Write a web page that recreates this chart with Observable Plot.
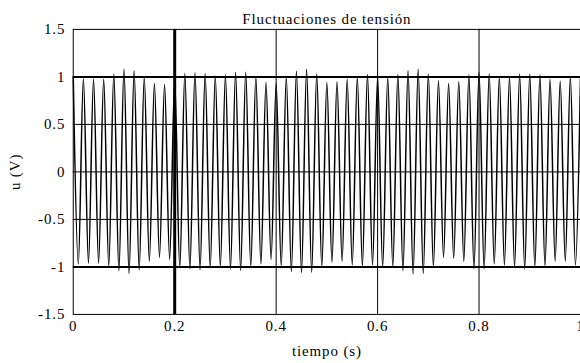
<!DOCTYPE html>
<html>
<head>
<meta charset="utf-8">
<script src="https://cdn.jsdelivr.net/npm/d3@7"></script>
<script src="https://cdn.jsdelivr.net/npm/@observablehq/plot@0.6"></script>
<style>
  html, body { margin: 0; padding: 0; background: #fff; overflow: hidden; }
  svg text { letter-spacing: 0.9px; }
</style>
</head>
<body>
<div id="chart"></div>
<script>
// Texts
const title = "Fluctuaciones de tensión";
const xLabel = "tiempo (s)";
const yLabel = "u (V)";

// Tick values and labels
const xTicks = [0, 0.2, 0.4, 0.6, 0.8, 1];
const xTickLabels = ["0", "0.2", "0.4", "0.6", "0.8", "1"];
const yTicks = [1.5, 1, 0.5, 0, -0.5, -1, -1.5];
const yTickLabels = ["1.5", "1", "0.5", "0", "-0.5", "-1", "-1.5"];

// Wave: one cycle lasts 0.02 s (50 Hz)
const period = 0.02;
// Positive peaks (read), at the start of each cycle
const posPeaks = [1.0, 0.98, 0.975, 0.975, 1.03, 1.08, 1.065, 1.0, 0.93, 0.92,
  0.97, 1.035, 1.045, 1.035, 1.01, 1.02, 1.05, 1.05, 1.0, 0.94,
  0.93, 1.0, 1.06, 1.08, 1.03, 0.94, 0.95, 0.975, 1.0, 1.025,
  1.0, 0.99, 1.025, 1.065, 1.08, 1.03, 0.96, 0.93, 0.95, 1.02,
  1.05, 1.03, 1.0, 1.0, 1.03, 1.03, 1.02, 0.975, 0.955, 1.0, 1.0];
// Negative peaks (read), in the middle of each cycle
const negPeaks = [-0.97, -0.96, -0.96, -0.99, -1.04, -1.07, -1.03, -0.94, -0.9, -0.92,
  -1.01, -1.02, -1.03, -1.01, -1.0, -1.02, -1.035, -1.0, -0.97, -0.92,
  -0.99, -1.05, -1.06, -1.055, -1.0, -0.95, -0.94, -0.98, -0.99, -0.98,
  -1.0, -1.0, -1.04, -1.075, -1.07, -1.0, -0.9, -0.91, -0.94, -1.02,
  -1.02, -0.97, -0.98, -1.0, -1.02, -1.0, -0.99, -0.94, -0.94, -0.98];

// Table of extrema
const wave = [];
posPeaks.forEach((u, k) => {
  wave.push({t: k * period, u});
  if (k < negPeaks.length) wave.push({t: k * period + period / 2, u: negPeaks[k]});
});

const serif = "'Liberation Serif', 'Times New Roman', serif";

const chart = Plot.plot({
  width: 582,
  height: 363,
  marginLeft: 73,
  marginRight: 0,
  marginTop: 29,
  marginBottom: 48,
  style: {fontFamily: serif, fontSize: "15px", color: "#000", background: "#fff"},
  x: {domain: [0, 1]},
  y: {domain: [-1.5, 1.5]},
  marks: [
    Plot.ruleX([0.2, 0.4, 0.6, 0.8], {stroke: "#000", strokeWidth: 1}),
    Plot.ruleY([-0.5, 0, 0.5], {stroke: "#000", strokeWidth: 1}),
    Plot.ruleY([-1, 1], {stroke: "#000", strokeWidth: 2}),
    Plot.ruleX([0.2], {stroke: "#000", strokeWidth: 3}),
    Plot.line(wave, {x: "t", y: "u", stroke: "#000", strokeWidth: 1.5, curve: "catmull-rom"}),
    Plot.frame({stroke: "#000", strokeWidth: 1}),
    Plot.axisX({ticks: xTicks, tickFormat: (d) => xTickLabels[xTicks.indexOf(d)], tickSize: 0, tickPadding: 6, fontSize: 15, fontFamily: serif, label: null}),
    Plot.axisY({ticks: yTicks, tickFormat: (d) => yTickLabels[yTicks.indexOf(d)], tickSize: 0, tickPadding: 8, fontSize: 15, fontFamily: serif, label: null}),
    Plot.text([title], {frameAnchor: "top", dy: -5, lineAnchor: "bottom", fontSize: 15, fontFamily: serif, text: d => d}),
    Plot.text([xLabel], {frameAnchor: "bottom", dy: 42, lineAnchor: "bottom", fontSize: 15, fontFamily: serif, text: d => d}),
    Plot.text([yLabel], {frameAnchor: "left", dx: -58, rotate: -90, lineAnchor: "middle", textAnchor: "middle", fontSize: 15, fontFamily: serif, text: d => d})
  ]
});
document.getElementById("chart").appendChild(chart);
</script>
</body>
</html>
